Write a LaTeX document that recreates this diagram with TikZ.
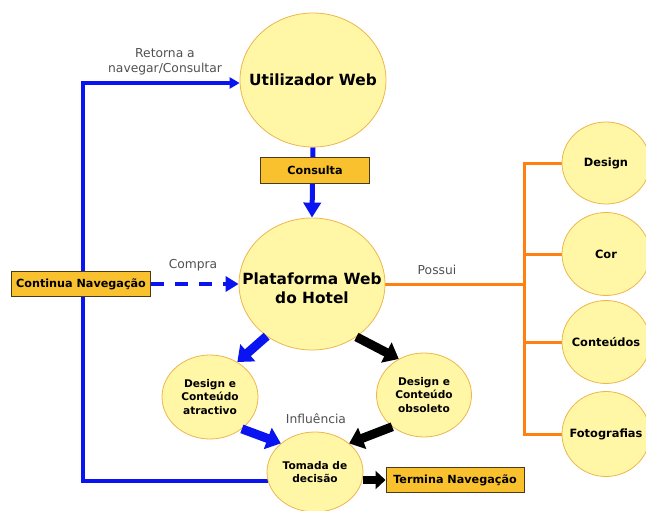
\documentclass[tikz,border=0pt]{standalone}
\usepackage{fontspec}
\setmainfont{DejaVu Sans}
\usetikzlibrary{shapes.geometric,arrows.meta,backgrounds}
\definecolor{bubble}{HTML}{FFF6A6}
\definecolor{bubbleline}{HTML}{EDB64C}
\definecolor{gold}{HTML}{F9C12E}
\definecolor{goldline}{HTML}{4A3A18}
\definecolor{flowblue}{HTML}{0A14F0}
\definecolor{branch}{HTML}{FF7F10}
\definecolor{note}{HTML}{505050}
\tikzset{
  bubblenode/.style={ellipse, draw=bubbleline, fill=bubble, line width=0.8pt, inner sep=0pt},
  bubbletext/.style={inner sep=0pt, align=center, font=\bfseries\fontsize{10.6}{13.5}\selectfont},
  bigtext/.style={bubbletext, font=\bfseries\fontsize{15.4}{19}\selectfont},
  sidetext/.style={bubbletext, font=\bfseries\fontsize{11.4}{14}\selectfont},
  tagbox/.style={rectangle, draw=goldline, fill=gold, line width=1pt,
    inner sep=0pt, font=\bfseries\fontsize{11.2}{13}\selectfont},
  notetext/.style={text=note, font=\fontsize{12.3}{14.5}\selectfont, align=center},
  blueline/.style={draw=flowblue, line width=4pt},
  bigblue/.style={draw=flowblue, line width=9pt, -{Triangle[width=22pt,length=14pt]}},
  bigblack/.style={draw=black, line width=9pt, -{Triangle[width=22pt,length=14pt]}},
  branchline/.style={draw=branch, line width=3pt}
}
\begin{document}
\begin{tikzpicture}[x=1pt,y=-1pt]
\useasboundingbox (0,0) rectangle (646,511);

% main bubbles
\node[bubblenode, minimum width=146pt, minimum height=134pt] (uw) at (313,80) {};
\node[bigtext] (uwt) at (uw) {Utilizador Web};
\node[bubblenode, minimum width=146pt, minimum height=132pt] (pw) at (312,284) {};
\node[bigtext] (pwt) at ([yshift=-4pt]pw.center) {Plataforma Web\\do Hotel};
\node[bubblenode, minimum width=96pt, minimum height=84pt] (da) at (210,397) {};
\node[bubbletext] (dat) at (da) {Design e\\Conteúdo\\atractivo};
\node[bubblenode, minimum width=95pt, minimum height=84pt] (dob) at (424,395) {};
\node[bubbletext] (dobt) at (dob) {Design e\\Conteúdo\\obsoleto};
\node[bubblenode, minimum width=96pt, minimum height=80pt] (tom) at (315,472) {};
\node[bubbletext] (tomt) at (tom) {Tomada de\\decisão};

% attribute bubbles
\node[bubblenode, minimum width=88pt, minimum height=82pt] (ds) at (606,163) {};
\node[sidetext] (dst) at (ds) {Design};
\node[bubblenode, minimum width=88pt, minimum height=83pt] (cor) at (606,254) {};
\node[sidetext] (cort) at (cor) {Cor};
\node[bubblenode, minimum width=88pt, minimum height=83pt] (ct) at (606,342) {};
\node[sidetext] (ctt) at (ct) {Conteúdos};
\node[bubblenode, minimum width=88pt, minimum height=85pt] (ft) at (606,434) {};
\node[sidetext] (ftt) at (ft) {Fotografias};

% label boxes
\node[tagbox, minimum width=109pt, minimum height=26pt] (cs) at (315,170) {Consulta};
\node[tagbox, minimum width=139pt, minimum height=25pt] (cn) at (81,284) {Continua Navegação};
\node[tagbox, minimum width=138pt, minimum height=25pt] (tn) at (455,480) {Termina Navegação};

% connector labels
\node[notetext] (lret) at (165,62) {Retorna a\\navegar/Consultar};
\node[notetext] (lcom) at (193,265) {Compra};
\node[notetext] (lpos) at (437,270) {Possui};
\node[notetext] (linf) at (316,419) {Influência};

\coordinate (loop) at (83,83);
\coordinate (hub) at (524,284);
\coordinate (hubtop) at (524,163);
\coordinate (hubbot) at (524,434);

\begin{scope}[on background layer]
  % return loop
  \draw[blueline, -{Triangle[width=11pt,length=10pt]}]
    (tom.191) -| (loop) -- (uw.west |- loop);
  % consultation flow
  \draw[blueline, line width=5pt, -{Triangle[width=17pt,length=15pt]}] (uw.south) -- (pw.north);
  % purchase flow
  \draw[blueline, dash pattern=on 13pt off 11pt, -{Triangle[width=15pt,length=13pt]}]
    (cn.east) -- (pw.west);
  % attributes
  \draw[branchline] (pw.east) -- (hub);
  \draw[branchline, line cap=rect] (hubtop) -- (hubbot);
  \draw[branchline] (hubtop) -- (ds.west);
  \draw[branchline] (cor.west -| hub) -- (cor.west);
  \draw[branchline] (ct.west -| hub) -- (ct.west);
  \draw[branchline] (hubbot) -- (ft.west);
\end{scope}

% influence arrows
\draw[bigblue] (pw.-131) -- (da.52);
\draw[bigblue] (da.-45) -- (tom.140);
\draw[bigblack] (pw.-50) -- (dob.125);
\draw[bigblack] (dob.-135) -- (tom.40);
\draw[draw=black, line width=8pt, -{Triangle[width=18pt,length=10pt]}] (tom.east |- tn.west) -- (tn.west);
\end{tikzpicture}
\end{document}
